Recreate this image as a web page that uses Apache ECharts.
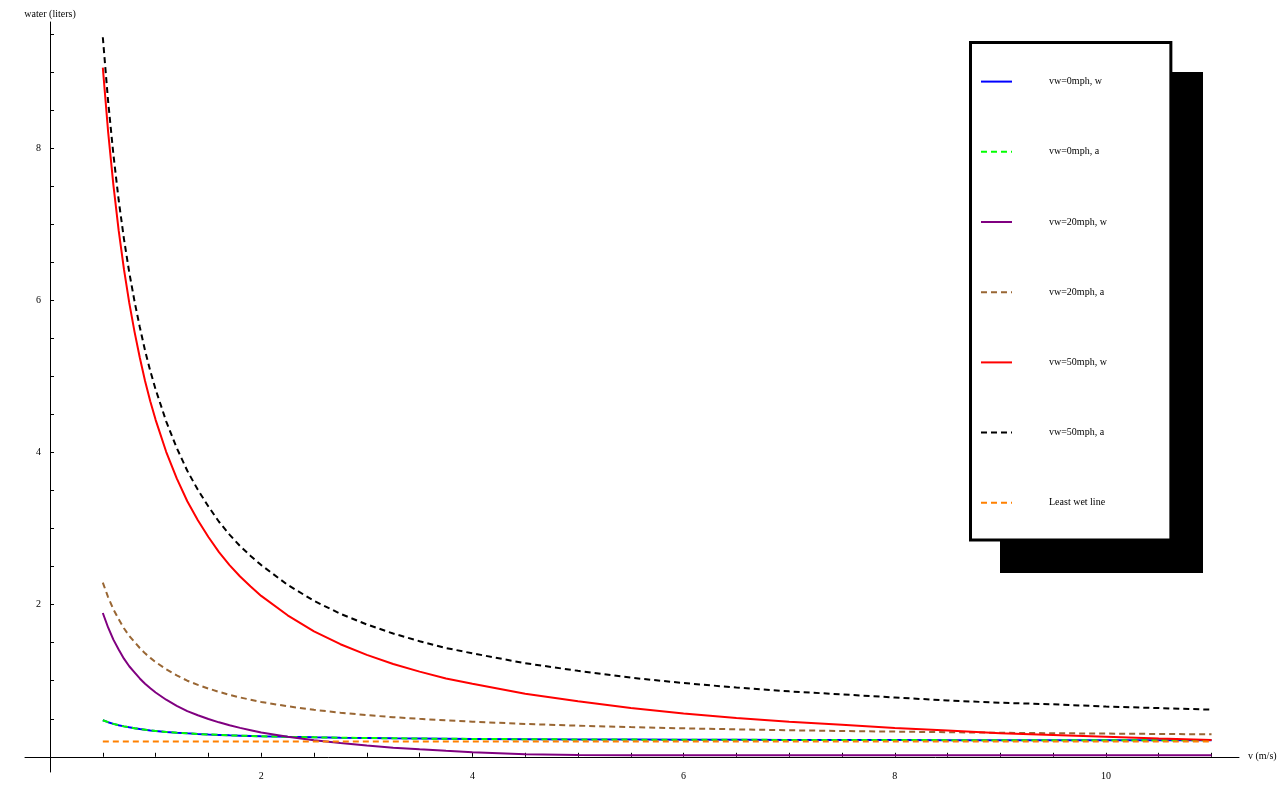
<!DOCTYPE html>
<html>
<head>
<meta charset="utf-8">
<script src="https://cdn.jsdelivr.net/npm/echarts@6/dist/echarts.min.js"></script>
<style>
html,body{margin:0;padding:0;background:#fff;}
#chart{width:1277px;height:798px;}
</style>
</head>
<body>
<div id="chart"></div>
<script>
// speed v (m/s)
const vValues = [0.5,0.55,0.6,0.65,0.7,0.75,0.8,0.85,0.9,0.95,1.0,1.1,1.2,1.3,1.4,1.5,1.6,1.7,1.8,1.9,2.0,2.25,2.5,2.75,3,3.25,3.5,3.75,4,4.5,5,5.5,6,6.5,7,7.5,8,8.5,9,9.5,10,10.5,11];
const seriesNames = ["vw=0mph, w","vw=0mph, a","vw=20mph, w","vw=20mph, a","vw=50mph, w","vw=50mph, a","Least wet line"];
// water (liters)
const vw0w  = [0.48,0.455,0.433,0.415,0.40,0.387,0.375,0.365,0.356,0.347,0.34,0.327,0.317,0.308,0.30,0.293,0.288,0.282,0.278,0.274,0.27,0.262,0.256,0.251,0.247,0.243,0.24,0.237,0.235,0.231,0.228,0.226,0.224,0.223,0.222,0.221,0.22,0.219,0.218,0.217,0.217,0.216,0.216];
const vw0a  = [0.48,0.455,0.433,0.415,0.40,0.387,0.375,0.365,0.356,0.347,0.34,0.327,0.317,0.308,0.30,0.293,0.288,0.282,0.278,0.274,0.27,0.262,0.256,0.251,0.247,0.243,0.24,0.237,0.235,0.231,0.228,0.226,0.224,0.223,0.222,0.221,0.22,0.219,0.218,0.217,0.217,0.216,0.216];
const vw20w = [1.89,1.70,1.54,1.41,1.29,1.19,1.11,1.03,0.96,0.90,0.845,0.75,0.67,0.60,0.546,0.497,0.453,0.415,0.38,0.35,0.32,0.264,0.218,0.18,0.148,0.12,0.099,0.079,0.061,0.032,0.022,0.02,0.02,0.02,0.02,0.02,0.02,0.02,0.02,0.02,0.02,0.02,0.02];
const vw20a = [2.29,2.10,1.94,1.81,1.69,1.59,1.51,1.43,1.36,1.30,1.245,1.15,1.07,1.00,0.946,0.897,0.853,0.815,0.78,0.75,0.72,0.664,0.618,0.58,0.548,0.52,0.499,0.479,0.461,0.432,0.409,0.39,0.374,0.361,0.349,0.339,0.331,0.323,0.316,0.31,0.305,0.30,0.295];
const vw50w = [9.06,8.22,7.52,6.92,6.41,5.97,5.59,5.25,4.94,4.67,4.43,4.01,3.66,3.36,3.11,2.89,2.69,2.52,2.37,2.24,2.115,1.86,1.65,1.48,1.34,1.22,1.12,1.03,0.96,0.83,0.73,0.64,0.57,0.51,0.46,0.42,0.38,0.345,0.31,0.287,0.263,0.241,0.221];
const vw50a = [9.46,8.62,7.92,7.32,6.81,6.37,5.99,5.65,5.34,5.07,4.83,4.41,4.06,3.76,3.51,3.29,3.09,2.92,2.77,2.64,2.52,2.26,2.05,1.88,1.74,1.62,1.52,1.43,1.36,1.23,1.13,1.04,0.97,0.91,0.86,0.82,0.78,0.74,0.71,0.69,0.66,0.64,0.62];
const leastWet = [0.2,0.2,0.2,0.2,0.2,0.2,0.2,0.2,0.2,0.2,0.2,0.2,0.2,0.2,0.2,0.2,0.2,0.2,0.2,0.2,0.2,0.2,0.2,0.2,0.2,0.2,0.2,0.2,0.2,0.2,0.2,0.2,0.2,0.2,0.2,0.2,0.2,0.2,0.2,0.2,0.2,0.2,0.2];
const xLabelValues = [2,4,6,8,10];
const yLabelValues = [2,4,6,8];
const xTickValues = [0.5,1,1.5,2,2.5,3,3.5,4,4.5,5,5.5,6,6.5,7,7.5,8,8.5,9,9.5,10,10.5,11];
const yTickValues = [0.5,1,1.5,2,2.5,3,3.5,4,4.5,5,5.5,6,6.5,7,7.5,8,8.5,9,9.5];

const allValues = [vw0w, vw0a, vw20w, vw20a, vw50w, vw50a, leastWet];
const colors = ['#0000ff','#00ff00','#800080','#996633','#ff0000','#000000','#ff8000'];
const dashed = [false,true,false,true,false,true,true];

const font = '"Liberation Serif", "Times New Roman", serif';

const series = allValues.map((vals, i) => ({
  name: seriesNames[i],
  type: 'line',
  data: vValues.map((v, j) => [v, vals[j]]),
  smooth: false,
  symbol: 'none',
  showSymbol: false,
  lineStyle: { color: colors[i], width: 2, type: dashed[i] ? [6,4] : 'solid' },
  itemStyle: { color: colors[i] },
  emphasis: { disabled: true },
  animation: false,
  z: 2 + i
}));

const chart = echarts.init(document.getElementById('chart'), null, { renderer: 'canvas' });
chart.setOption({
  animation: false,
  backgroundColor: '#fff',
  grid: { left: 25, top: 22, width: 1214, height: 750, containLabel: false, outerBoundsMode: 'none' },
  xAxis: {
    type: 'value', min: -0.237, max: 11.26,
    name: 'v (m/s)', nameLocation: 'end', nameGap: 9,
    nameTextStyle: { fontFamily: font, fontSize: 10, color: '#000' },
    axisLine: { onZero: true, lineStyle: { color: '#000', width: 1 } },
    axisTick: { show: true, inside: true, length: 4, customValues: xTickValues, lineStyle: { color: '#000' } },
    axisLabel: { customValues: xLabelValues, fontFamily: font, fontSize: 10, color: '#000', margin: -1 },
    splitLine: { show: false }
  },
  yAxis: {
    type: 'value', min: -0.2, max: 9.66,
    name: 'water (liters)', nameLocation: 'end', nameGap: 3,
    nameTextStyle: { fontFamily: font, fontSize: 10, color: '#000', align: 'center' },
    axisLine: { onZero: true, lineStyle: { color: '#000', width: 1 } },
    axisTick: { show: true, inside: true, length: 4, customValues: yTickValues, lineStyle: { color: '#000' } },
    axisLabel: { customValues: yLabelValues, fontFamily: font, fontSize: 10, color: '#000', margin: -16 },
    splitLine: { show: false }
  },
  graphic: [{
    type: 'rect', z: 0, silent: true,
    shape: { x: 1000, y: 72, width: 203, height: 501 },
    style: { fill: '#000' }
  }],
  legend: {
    orient: 'vertical',
    left: 970.5, top: 42.5,
    padding: [33.5, 64, 31.5, 9.5],
    itemWidth: 31, itemHeight: 14, itemGap: 59,
    backgroundColor: '#fff',
    borderColor: '#000', borderWidth: 3,
    itemStyle: { opacity: 0 },
    selectedMode: false,
    z: 5,
    textStyle: { fontFamily: font, fontSize: 10, color: '#000', padding: [0,0,0,32] },
    data: seriesNames
  },
  series: series
});
</script>
</body>
</html>
